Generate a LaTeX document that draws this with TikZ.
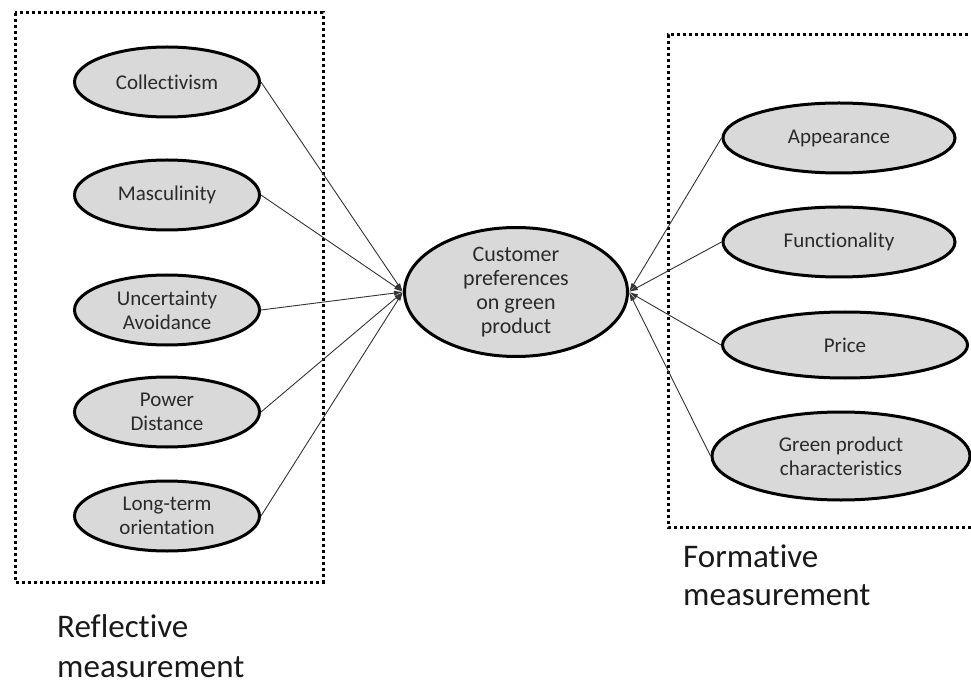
\documentclass[tikz,border=0pt]{standalone}
\usepackage{fontspec}
\setmainfont{Carlito}[Ligatures=NoCommon]
\usetikzlibrary{shapes.geometric,arrows.meta}
\definecolor{ovalfill}{HTML}{D9D9D9}
\definecolor{inktext}{HTML}{2A2A2A}
\begin{document}
\begin{tikzpicture}[x=1pt,y=-1pt,
  oval/.style={ellipse, draw=black, line width=3pt, fill=ovalfill, inner sep=0pt,
    minimum width=185pt, minimum height=70pt, align=center, text=inktext,
    font=\fontsize{21}{24}\selectfont},
  link/.style={line width=0.9pt, draw=black!80, -{Latex[length=9pt,width=5pt]}},
  groupbox/.style={line width=3pt, dash pattern=on 3pt off 3pt},
  caption/.style={anchor=base west, align=left, inner sep=0pt, text=black!90,
    font=\fontsize{33}{40}\selectfont}]
\useasboundingbox (0,0) rectangle (971,684);

% dotted group frames
\draw[groupbox] (15,13) rectangle (323,582);
\begin{scope}
  \clip (0,0) rectangle (971,684);
  \draw[groupbox] (980,35) -- (668,35) -- (668,527) -- (980,527);
\end{scope}

% reflective indicators
\node[oval] (coll) at (167,82) {Collectivism};
\node[oval] (masc) at (167,195) {Masculinity};
\node[oval] (unce) at (167,310) {Uncertainty\\Avoidance};
\node[oval] (powr) at (167,412) {Power\\Distance};
\node[oval] (long) at (167,516) {Long-term\\orientation};

% construct
\node[oval, minimum width=223pt, minimum height=129pt,
  font=\fontsize{22}{24}\selectfont] (cust) at (516,292)
  {Customer\\preferences\\on green\\product};

% formative indicators
\node[oval, minimum width=232pt] (appe) at (839,138) {Appearance};
\node[oval, minimum width=232pt] (func) at (839,242) {Functionality};
\node[oval, minimum width=245pt, minimum height=66pt] (pric) at (845,345) {Price};
\node[oval, minimum width=258pt, minimum height=88pt] (gree) at (841,456)
  {Green product\\characteristics};

% paths into the construct
\foreach \src in {coll,masc,unce,powr,long}
  \draw[link] (\src.east) -- (cust.west);
\foreach \src in {appe,func,pric,gree}
  \draw[link] (\src.west) -- (cust.east);

% group captions
\node[caption] (refl) at (57,677) {Reflective\\measurement};
\node[caption, font=\fontsize{33}{38}\selectfont] (form) at (683,605) {Formative\\measurement};
\end{tikzpicture}
\end{document}
